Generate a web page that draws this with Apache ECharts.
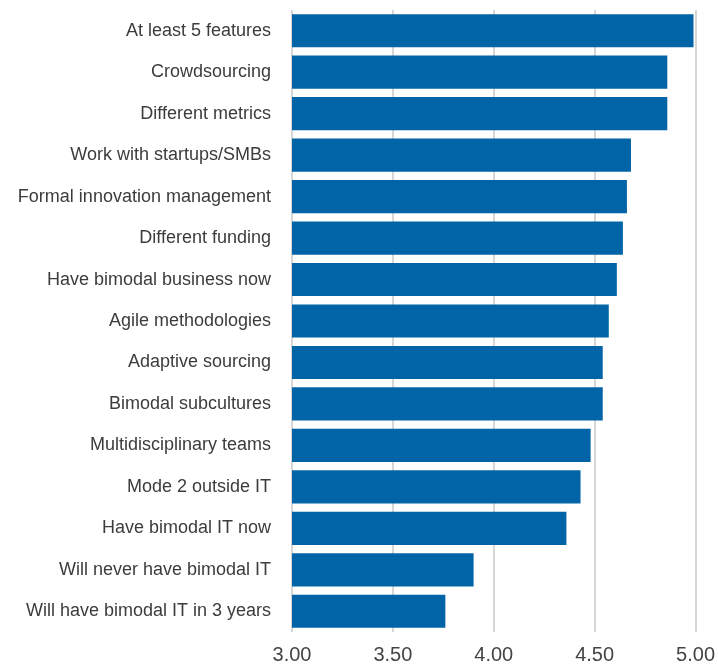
<!DOCTYPE html>
<html><head><meta charset="utf-8">
<script src="https://cdn.jsdelivr.net/npm/echarts@6/dist/echarts.min.js"></script>
<style>html,body{margin:0;padding:0;background:#fff}#c{width:718px;height:667px}</style>
</head><body><div id="c"></div>
<script>
const categories = ["At least 5 features","Crowdsourcing","Different metrics","Work with startups/SMBs","Formal innovation management","Different funding","Have bimodal business now","Agile methodologies","Adaptive sourcing","Bimodal subcultures","Multidisciplinary teams","Mode 2 outside IT","Have bimodal IT now","Will never have bimodal IT","Will have bimodal IT in 3 years"];
const values = [4.99,4.86,4.86,4.68,4.66,4.64,4.61,4.57,4.54,4.54,4.48,4.43,4.36,3.90,3.76];
const xTicks = [3.0,3.5,4.0,4.5,5.0];
const chart = echarts.init(document.getElementById('c'));
chart.setOption({
  animation:false,
  grid:{left:292,right:22,top:10,bottom:35,containLabel:false},
  xAxis:{type:'value',min:xTicks[0],max:xTicks[xTicks.length-1],interval:0.5,
    axisLine:{show:false},axisTick:{show:false},
    axisLabel:{formatter:v=>v.toFixed(2),fontSize:20,color:'#444',fontFamily:'Liberation Sans, Arial, sans-serif',margin:13},
    splitLine:{show:true,lineStyle:{color:'#c8c8c8',width:1.5}}},
  yAxis:{type:'category',data:categories,inverse:true,
    axisLine:{show:false},axisTick:{show:false},
    axisLabel:{fontSize:18,color:'#3c3c3c',fontFamily:'Liberation Sans, Arial, sans-serif',margin:21,padding:[7,0,0,0]}},
  series:[{type:'bar',data:values,barCategoryGap:'20%',itemStyle:{color:'#0064a6'}}]
});
</script></body></html>
